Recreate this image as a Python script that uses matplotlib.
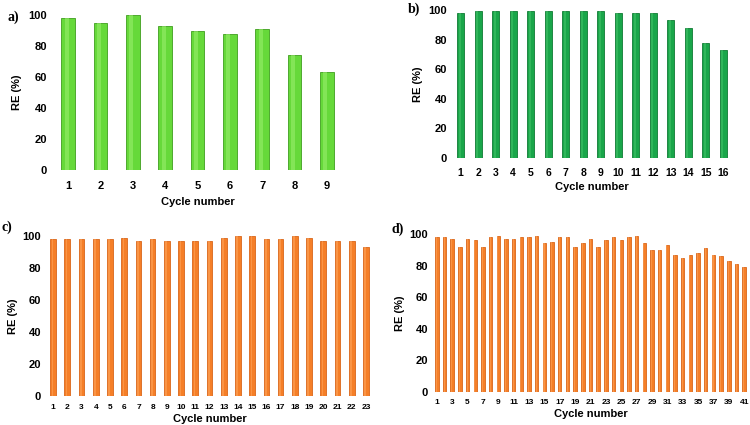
import numpy as np
import matplotlib
matplotlib.use('Agg')
import matplotlib.pyplot as plt

plt.rcParams['font.family'] = ['Liberation Sans', 'DejaVu Sans']
plt.rcParams['font.weight'] = 'bold'

# removal efficiency per cycle
re_a = [98, 95, 100, 93, 90, 88, 91, 74, 63]
re_b = [98, 99, 99, 99, 99, 99, 99, 99, 99, 98, 98, 98, 93, 88, 78, 73]
re_c = [98, 98, 98, 98, 98, 99, 97, 98, 97, 97, 97, 97, 99, 100, 100, 98, 98,
        100, 99, 97, 97, 97, 93]
re_d = [98, 98, 97, 92, 97, 96, 92, 98, 99, 97, 97, 98, 98, 99, 94, 95, 98, 98,
        92, 94, 97, 92, 96, 98, 96, 98, 99, 94, 90, 90, 93, 87, 85, 87, 88, 91,
        87, 86, 83, 81, 79]
y_ticks = [0, 20, 40, 60, 80, 100]

W, H = 750, 425
fig = plt.figure(figsize=(7.5, 4.25), dpi=100)


def make_ax(left, top, right, bottom):
    # pixel box -> figure fraction
    return fig.add_axes([left / W, 1 - bottom / H, (right - left) / W, (bottom - top) / H])


def panel(ax, vals, color, edge, hl, width, tick_step, tick_fs):
    x = np.arange(1, len(vals) + 1)
    ax.bar(x, vals, width=width, color=color, edgecolor=edge, linewidth=0.6, zorder=2)
    # light stripe to hint at the cylinder shading
    ax.bar(x - width * 0.12, vals, width=width * 0.3, color=hl, linewidth=0, alpha=0.55, zorder=3)
    ax.set_xlim(0.5, len(vals) + 0.5)
    ax.set_ylim(0, 100)
    ax.set_xticks(x[::tick_step])
    ax.set_yticks(y_ticks)
    ax.tick_params(length=0, labelsize=tick_fs)
    ax.tick_params(axis='y', labelsize=8)
    for s in ax.spines.values():
        s.set_visible(False)
    ax.set_facecolor('none')


# a)
ax_a = make_ax(52, 15, 343, 170)
panel(ax_a, re_a, '#66d93a', '#3f9e1e', '#9cf070', 0.42, 1, 8)
ax_a.tick_params(axis='x', pad=8)
ax_a.set_xlabel('Cycle number', fontsize=8, fontweight='bold', labelpad=4)
ax_a.set_ylabel('RE (%)', fontsize=8, fontweight='bold', labelpad=5)
fig.text(8 / W, 1 - 17 / H, 'a)', family='Liberation Serif', fontsize=10, fontweight='bold', va='center')

# b)
ax_b = make_ax(452, 10, 732, 158)
panel(ax_b, re_b, '#1aa64a', '#0f7a33', '#44c46a', 0.4, 1, 7.5)
ax_b.tick_params(axis='x', pad=7)
ax_b.set_xlabel('Cycle number', fontsize=8, fontweight='bold', labelpad=3)
ax_b.set_ylabel('RE (%)', fontsize=8, fontweight='bold', labelpad=4)
fig.text(408 / W, 1 - 9 / H, 'b)', family='Liberation Serif', fontsize=10, fontweight='bold', va='center')

# c)
ax_c = make_ax(46, 236, 373, 396)
panel(ax_c, re_c, '#f57f28', '#d9661a', '#ffa860', 0.4, 1, 6)
ax_c.tick_params(axis='x', pad=6)
ax_c.set_xlabel('Cycle number', fontsize=8, fontweight='bold', labelpad=2)
ax_c.set_ylabel('RE (%)', fontsize=8, fontweight='bold', labelpad=3)
fig.text(1 / W, 1 - 227 / H, 'c)', family='Liberation Serif', fontsize=10, fontweight='bold', va='center')

# d)
ax_d = make_ax(433, 234, 748, 392)
panel(ax_d, re_d, '#f57f28', '#d9661a', '#ffa860', 0.45, 2, 6)
ax_d.tick_params(axis='x', pad=5)
ax_d.set_xlabel('Cycle number', fontsize=8, fontweight='bold', labelpad=2)
ax_d.set_ylabel('RE (%)', fontsize=8, fontweight='bold', labelpad=3)
fig.text(391 / W, 1 - 229 / H, 'd)', family='Liberation Serif', fontsize=10, fontweight='bold', va='center')

fig.savefig('out.png', dpi=100)
